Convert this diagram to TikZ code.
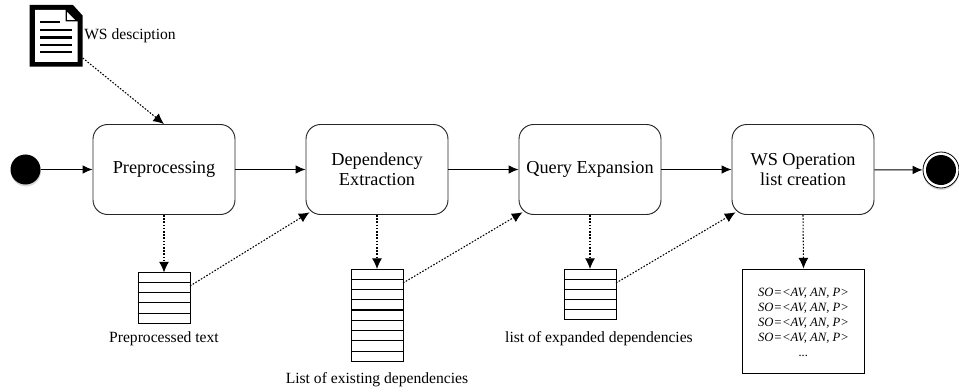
\documentclass[tikz,border=0pt]{standalone}
\usepackage{fontspec}
\setmainfont{Liberation Serif}
\usetikzlibrary{arrows.meta}
\tikzset{
  x=0.75pt,y=-0.75pt,
  stage/.style={draw=black!85,line width=0.7pt,rounded corners=11pt,minimum width=106.5pt,minimum height=67.5pt,inner sep=0pt,align=center,font=\fontsize{13.7}{15.2}\selectfont,fill=white},
  flow/.style={-{Latex[length=7.5pt,width=6.5pt]},line width=0.75pt,black},
  depline/.style={-{Latex[length=8pt,width=7.5pt]},line width=0.8pt,dash pattern=on 1.2pt off 1.2pt,black},
  stack/.style={draw=black,line width=0.6pt,fill=white},
  caption/.style={font=\fontsize{11.7}{13}\selectfont,inner sep=0pt},
  soliddot/.style={circle,fill=black,inner sep=0pt,minimum size=22.5pt},
  finaldot/.style={circle,draw=black,line width=0.6pt,fill=white,inner sep=0pt,minimum size=27pt},
  halo/.style={circle,fill=black!15,inner sep=0pt},
}
\newcommand{\listrows}[4]{% x1 y1 x2 count
  \draw[stack] (#1,#2) rectangle (#3,#2+10.1*#4);
  \foreach \i in {1,...,#4}{\draw[line width=0.6pt] (#1,#2+10.1*\i) -- (#3,#2+10.1*\i);}
}
\begin{document}
\begin{tikzpicture}
\useasboundingbox (0,0) rectangle (959,392);
% stages
\node[stage] (pre) at (164,169.5) {\raisebox{-1pt}{Preprocessing}};
\node[stage] (dep) at (377,169.5) {Dependency\\Extraction};
\node[stage] (qe) at (590,169.5) {\raisebox{-1pt}{Query Expansion}};
\node[stage] (ws) at (803,169.5) {WS Operation\\list creation\hspace{6pt}};
% terminals
\node[halo,minimum size=22.5pt] at (26,171.5) {};
\node[soliddot] (start) at (25.5,169.5) {};
\node[halo,minimum size=27pt] at (941,172) {};
\node[finaldot] (end) at (941,170) {};
\node[soliddot] at (end) {};
% document icon
\fill[black] (29.5,5) -- (73,5) -- (82.7,15.7) -- (82.7,66.7) -- (29.5,66.7) -- cycle;
\fill[white] (35,10) -- (65.5,10) -- (65.5,21.5) -- (77.5,21.5) -- (77.5,62) -- (35,62) -- cycle;
\fill[white] (67,12) -- (75,20) -- (67,20) -- cycle;
\foreach \yy in {30,37.5,45,52}{\fill[black] (39.5,\yy-1.2) rectangle (72,\yy+1.2);}
\fill[black] (39.5,20.8) rectangle (60,23.2);
\coordinate (doc) at (82.7,58);
\node[caption,anchor=west] (doclab) at (84,36) {WS desciption};
% lists
\listrows{138.5}{272.5}{190}{5}
\coordinate (l1top) at (164,272.5);
\coordinate (l1out) at (190,286);
\node[caption] (l1lab) at (164,339) {Preprocessed text};
\listrows{351.5}{269}{403}{4}
\listrows{351.5}{310.5}{403}{5}
\coordinate (l2top) at (377,269);
\coordinate (l2out) at (403,283);
\node[caption] (l2lab) at (377,380) {List of existing dependencies};
\listrows{564.5}{269}{616}{5}
\coordinate (l3top) at (590,269);
\coordinate (l3out) at (616,283);
\node[caption] (l3lab) at (599,339) {list of expanded dependencies};
\node[draw=black,line width=0.7pt,fill=white,minimum width=91pt,minimum height=78pt,inner sep=0pt,align=center,font=\itshape\fontsize{9.5}{11.25}\selectfont] (so) at (803.5,321)
  {\rule{0pt}{9pt}SO=<AV, AN, P>\\SO=<AV, AN, P>\\SO=<AV, AN, P>\\SO=<AV, AN, P>\\...};
% connectors
\draw[flow] (start) -- (pre);
\draw[flow] (pre) -- (dep);
\draw[flow] (dep) -- (qe);
\draw[flow] (qe) -- (ws);
\draw[flow] (ws) -- (end);
\draw[depline] (doc) -- (pre.north);
\draw[depline] (pre.south) -- (l1top);
\draw[depline] (dep.south) -- (l2top);
\draw[depline] (qe.south) -- (l3top);
\draw[depline] (ws.south) -- (so.north);
\draw[depline] (l1out) -- ([xshift=3pt,yshift=2pt]dep.south west);
\draw[depline] (l2out) -- ([xshift=3pt,yshift=2pt]qe.south west);
\draw[depline] (l3out) -- ([xshift=3pt,yshift=2pt]ws.south west);
\end{tikzpicture}
\end{document}
